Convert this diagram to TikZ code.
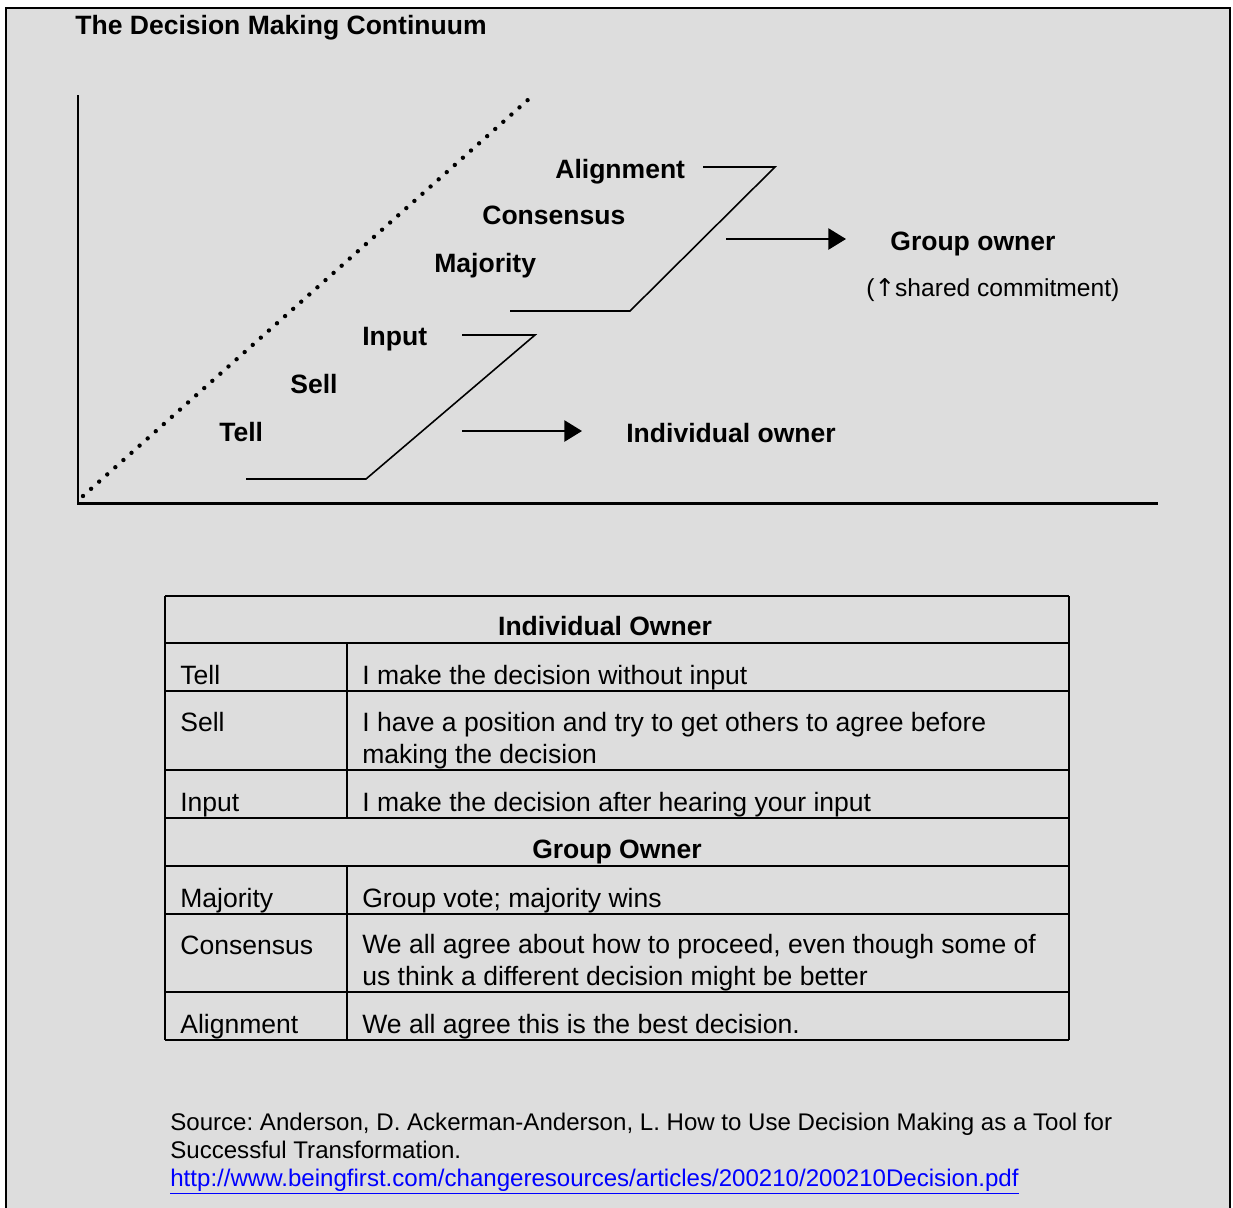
\documentclass[tikz,border=0pt]{standalone}
\usepackage{fontspec}
\setmainfont{Liberation Sans}
\newfontfamily\arrowfont{DejaVu Sans}
\frenchspacing
\definecolor{panelgray}{RGB}{221, 221, 221}
\definecolor{linkblue}{RGB}{0, 0, 255}
\usetikzlibrary{arrows.meta,positioning}

\begin{document}
\begin{tikzpicture}[x=0.02cm, y=-0.02cm, every node/.style={inner sep=0pt, font=\fontsize{15.1}{17.9}\selectfont},
    label/.style={anchor=base west, font=\fontsize{15.1}{17.9}\selectfont\bfseries},
    cell/.style={anchor=base west, align=left},
    head/.style={anchor=base, font=\fontsize{15.1}{17.9}\selectfont\bfseries},
    bracket/.style={line width=0.9pt},
    owner/.style={-{Triangle[length=10pt, width=12pt]}, line width=1.1pt},
    axis/.style={line width=1.7pt}]
    \useasboundingbox (0,0) rectangle (1233,1207);
    \draw[fill=panelgray, line width=1.2pt] (6,1230) -- (6,8) -- (1230,8) -- (1230,1230);

    \node[label] (title) at (75,34) {The Decision Making Continuum};

    % axes and the continuum
    \coordinate (origin) at (78,503);
    \coordinate (ytop) at (78,95);
    \coordinate (xend) at (1158,503);
    \draw[axis] (ytop) -- (origin) -- (xend);
    \coordinate (dstart) at (83,496);
    \coordinate (dend) at (530,98);
    \draw[line width=2.5pt, line cap=round, dash pattern=on 0pt off 6.16pt] (dstart) -- (dend);

    % styles on the continuum
    \node[label] (align) at (555,178) {Alignment};
    \node[label] (cons) at (482,224) {Consensus};
    \node[label] (maj) at (434,272) {Majority};
    \node[label] (inp) at (362,345) {Input};
    \node[label] (sell) at (290,393) {Sell};
    \node[label] (tell) at (219,441) {Tell};

    % group bracket
    \coordinate (gb1) at (510,311);
    \coordinate (gb2) at (630,311);
    \coordinate (gb3) at (775,167);
    \coordinate (gb4) at (703,167);
    \draw[bracket] (gb1) -- (gb2) -- (gb3) -- (gb4);
    % individual bracket
    \coordinate (ib1) at (246,479);
    \coordinate (ib2) at (366,479);
    \coordinate (ib3) at (535,335);
    \coordinate (ib4) at (462,335);
    \draw[bracket] (ib1) -- (ib2) -- (ib3) -- (ib4);

    \node[label] (group) at (890,250) {Group owner};
    \node[anchor=base west, font=\fontsize{14}{16}\selectfont] (shared) at (866,296) {({\arrowfont ↑}shared commitment)};
    \node[label] (indiv) at (626,442) {Individual owner};
    \coordinate (ga) at (726,239);
    \coordinate (gtip) at (846,239);
    \coordinate (ia) at (462,431);
    \coordinate (itip) at (582,431);
    \draw[owner] (ga) -- (gtip);
    \draw[owner] (ia) -- (itip);

    % table
    \foreach \y in {596,643,691,770,818,866,914,992,1040}
        \draw[line width=1.1pt] (165,\y) -- (1069,\y);
    \draw[line width=1.1pt] (165,596) -- (165,1040);
    \draw[line width=1.1pt] (1069,596) -- (1069,1040);
    \draw[line width=1.1pt] (347,643) -- (347,818);
    \draw[line width=1.1pt] (347,866) -- (347,1040);

    \node[head] (ihead) at (605,635) {Individual Owner};
    \node[cell] (ctell) at (180,684) {Tell};
    \node[cell] (dtell) at (362,684) {I make the decision without input};
    \node[cell] (csell) at (180,731) {Sell};
    \node[cell] (dsell) at (362,763) {I have a position and try to get others to agree before\\making the decision};
    \node[cell] (cinp) at (180,811) {Input};
    \node[cell] (dinp) at (362,811) {I make the decision after hearing your input};
    \node[head] (ghead) at (617,858) {Group Owner};
    \node[cell] (cmaj) at (180,907) {Majority};
    \node[cell] (dmaj) at (362,907) {Group vote; majority wins};
    \node[cell] (ccons) at (180,954) {Consensus};
    \node[cell] (dcons) at (362,985) {We all agree about how to proceed, even though some of\\us think a different decision might be better};
    \node[cell] (calign) at (180,1033) {Alignment};
    \node[cell] (dalign) at (362,1033) {We all agree this is the best decision.};

    % source
    \node[cell, font=\fontsize{13.7}{15.6}\selectfont] (source) at (170,1158) {Source: Anderson, D. Ackerman-Anderson, L. How to Use Decision Making as a Tool for\\Successful Transformation.};
    \node[cell, text=linkblue, font=\fontsize{13.7}{15.6}\selectfont] (link) at (170,1186) {\underline{http://www.beingfirst.com/changeresources/articles/200210/200210Decision.pdf}};
\end{tikzpicture}
\end{document}
